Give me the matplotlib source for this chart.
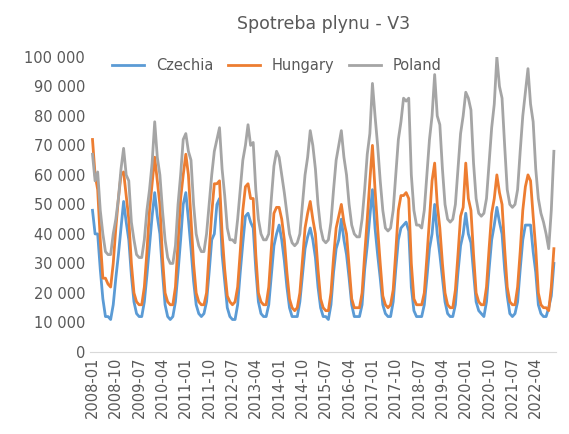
import matplotlib
matplotlib.use("Agg")
import matplotlib.pyplot as plt
import pandas as pd

czechia = [
 48,40,40,28,18,12,12,11,16,25,33,42,
 51,44,38,26,17,13,12,12,17,26,36,46,
 54,46,40,27,16,12,11,12,17,27,38,50,
 54,45,35,24,16,13,12,13,17,27,38,40,
 50,52,33,24,15,12,11,11,16,27,37,46,
 47,44,42,28,17,13,12,12,16,26,36,40,
 43,38,31,22,15,12,12,12,17,26,35,39,
 42,38,32,22,15,12,12,11,16,27,35,38,
 45,38,33,25,16,12,12,12,16,28,36,46,
 55,42,33,25,16,13,12,12,17,28,38,42,
 43,44,41,22,14,12,12,12,16,25,35,40,
 50,40,33,25,17,13,12,12,16,27,36,40,
 47,40,37,27,17,14,13,12,17,28,38,43,
 49,44,40,28,19,13,12,13,17,28,38,43,
 43,43,34,27,16,13,12,12,15,19,30]
hungary = [
 72,60,55,38,25,25,23,22,30,42,52,60,
 61,53,45,30,20,17,16,16,22,34,48,57,
 66,58,50,32,20,17,16,16,22,37,52,60,
 67,60,45,30,20,17,16,16,20,34,47,57,
 57,58,40,28,19,17,16,17,22,34,48,56,
 57,52,52,33,20,17,16,16,22,35,47,49,
 49,45,38,27,18,15,14,15,20,31,42,47,
 51,45,40,28,18,15,14,14,20,32,42,46,
 50,44,40,29,18,15,15,15,20,33,45,58,
 70,55,42,30,19,16,15,16,21,34,48,53,
 53,54,52,30,18,16,16,16,20,32,45,58,
 64,50,42,30,20,16,15,15,21,33,46,49,
 64,52,48,33,20,17,16,16,22,35,47,52,
 60,54,50,35,22,17,16,16,22,34,48,56,
 60,58,46,35,20,16,15,15,14,22,35]
poland = [
 67,58,61,48,40,34,33,33,40,45,52,62,
 69,60,58,44,38,33,32,32,38,48,55,64,
 78,66,60,48,38,32,30,30,36,50,60,72,
 74,68,65,50,40,36,34,34,40,50,60,68,
 72,76,62,53,42,38,38,37,45,55,65,70,
 77,70,71,55,45,40,38,38,40,52,63,68,
 66,60,54,47,40,37,36,37,40,50,60,66,
 75,70,62,50,42,38,37,38,44,55,65,70,
 75,66,60,50,43,40,39,39,45,55,67,74,
 91,80,70,58,48,42,41,42,48,60,72,78,
 86,85,86,60,48,43,43,42,48,60,72,80,
 94,80,77,62,50,45,44,45,50,62,74,80,
 88,86,82,64,52,47,46,47,52,64,76,84,
 100,90,86,70,55,50,49,50,55,68,80,88,
 96,84,78,62,52,47,44,40,35,48,68]

months = pd.period_range("2008-01", periods=len(czechia), freq="M").strftime("%Y-%m").tolist()

fig = plt.figure(figsize=(5.69, 4.34), dpi=100)
ax = fig.add_axes([0.158, 0.189, 0.82, 0.68])
x = range(len(months))
ax.plot(x, [v*1000 for v in czechia], color="#5B9BD5", lw=2.0, label="Czechia")
ax.plot(x, [v*1000 for v in hungary], color="#ED7D31", lw=2.0, label="Hungary")
ax.plot(x, [v*1000 for v in poland], color="#A5A5A5", lw=2.0, label="Poland")
ax.set_ylim(0, 100000)
ax.set_yticks(range(0, 100001, 10000))
ax.set_yticklabels([f"{v:,}".replace(",", " ") for v in range(0, 100001, 10000)], fontsize=10.5, color="#595959")
ax.set_xlim(-1, len(months))
ax.set_xticks(list(range(0, len(months), 9)))
ax.set_xticklabels(months[::9], rotation=90, fontsize=10.5, color="#595959")
for s in ["top", "right", "left"]:
    ax.spines[s].set_visible(False)
ax.spines["bottom"].set_color("#D9D9D9")
ax.tick_params(length=0)
ax.set_title("Spotreba plynu - V3", fontsize=12.5, color="#595959", pad=20)
ax.legend(loc="upper center", bbox_to_anchor=(0.4, 1.04), ncol=3, frameon=False,
          fontsize=10.5, labelcolor="#595959", handlelength=2.2, columnspacing=1.0)
fig.savefig("out.png")
